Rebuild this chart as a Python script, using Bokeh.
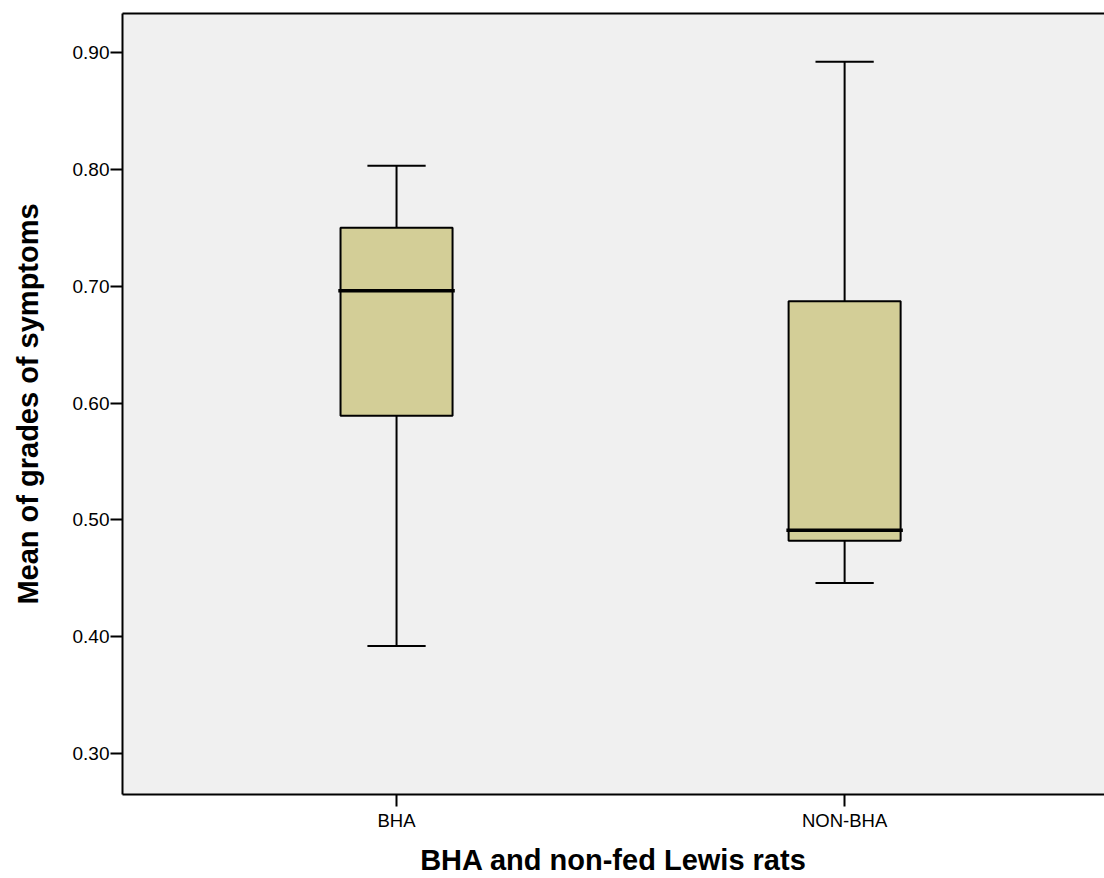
from bokeh.plotting import figure
from bokeh.models import Range1d, FixedTicker, LinearAxis
from bokeh.embed import file_html
from bokeh.resources import INLINE

categories = ["BHA", "NON-BHA"]
whisker_low = [0.392, 0.446]
q1 = [0.589, 0.482]
median = [0.696, 0.491]
q3 = [0.750, 0.687]
whisker_high = [0.803, 0.892]
y_ticks = [0.30, 0.40, 0.50, 0.60, 0.70, 0.80, 0.90]

xs = [i + 1 for i in range(len(categories))]
box_w = 0.25
cap_w = 0.13

p = figure(width=1104, height=878, output_backend="svg", toolbar_location=None,
           x_range=Range1d(0.3884, 2.580), y_range=Range1d(0.2649, 0.9334),
           min_border_left=122, min_border_right=0, min_border_top=13, min_border_bottom=84)
p.background_fill_color = "#f0f0f0"
p.border_fill_color = "white"
p.outline_line_color = None
p.grid.visible = False

# whiskers
p.segment(x0=xs, y0=q3, x1=xs, y1=whisker_high, line_color="black", line_width=2)
p.segment(x0=xs, y0=whisker_low, x1=xs, y1=q1, line_color="black", line_width=2)
p.segment(x0=[x - cap_w / 2 for x in xs], y0=whisker_high, x1=[x + cap_w / 2 for x in xs], y1=whisker_high,
          line_color="black", line_width=2)
p.segment(x0=[x - cap_w / 2 for x in xs], y0=whisker_low, x1=[x + cap_w / 2 for x in xs], y1=whisker_low,
          line_color="black", line_width=2)
# boxes
p.vbar(x=xs, width=box_w, bottom=q1, top=q3, fill_color="#d3ce97", line_color="black", line_width=2)
# medians
p.segment(x0=[x - box_w / 2 - 0.005 for x in xs], y0=median, x1=[x + box_w / 2 + 0.005 for x in xs], y1=median,
          line_color="black", line_width=3.5)

# axes
xa = p.xaxis[0]
xa.ticker = FixedTicker(ticks=xs)
xa.major_label_overrides = {x: c for x, c in zip(xs, categories)}
xa.axis_label = "BHA and non-fed Lewis rats"
ya = p.yaxis[0]
ya.ticker = FixedTicker(ticks=y_ticks)
ya.major_label_overrides = {t: f"{t:.2f}" for t in y_ticks}
ya.axis_label = "Mean of grades of symptoms"

for ax in (xa, ya):
    ax.axis_line_color = "black"
    ax.axis_line_width = 2
    ax.major_tick_line_color = "black"
    ax.major_tick_line_width = 2
    ax.major_tick_out = 12
    ax.major_tick_in = 0
    ax.minor_tick_line_color = None
    ax.major_label_text_font = "Liberation Sans"
    ax.major_label_text_color = "black"
    ax.axis_label_text_font = "Liberation Sans"
    ax.axis_label_text_font_style = "bold"
    ax.axis_label_text_font_size = "29px"
    ax.axis_label_text_color = "black"

ya.major_label_text_font_size = "19px"
xa.major_label_text_font_size = "18.5px"
ya.major_label_standoff = 1
ya.axis_label_standoff = 26
xa.major_label_standoff = 3
xa.axis_label_standoff = 10

top = LinearAxis(ticker=FixedTicker(ticks=[]), axis_line_color="black", axis_line_width=2,
                 major_label_text_font_size="0px", major_tick_line_color=None, minor_tick_line_color=None)
p.add_layout(top, "above")

open("out.html", "w").write(file_html(p, INLINE))
